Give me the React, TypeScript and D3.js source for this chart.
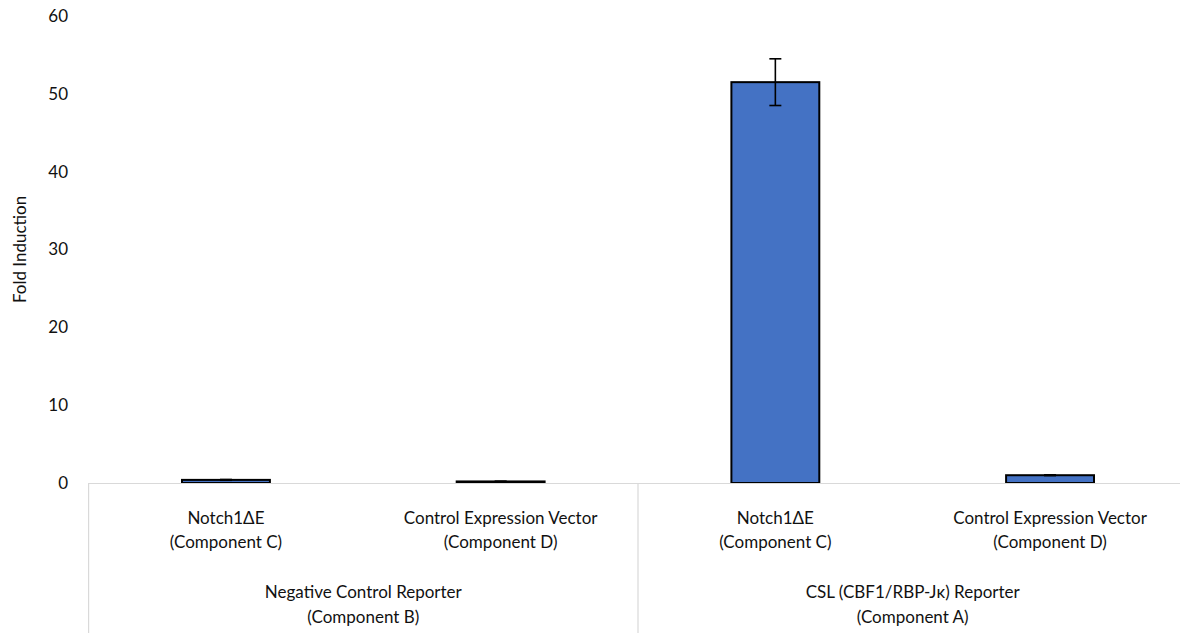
import React from "react";
import * as d3 from "d3";

const categoryLines: string[][] = [
  ["Notch1ΔE", "(Component C)"],
  ["Control Expression Vector", "(Component D)"],
  ["Notch1ΔE", "(Component C)"],
  ["Control Expression Vector", "(Component D)"],
];
const groupLines: string[][] = [
  ["Negative Control Reporter", "(Component B)"],
  ["CSL (CBF1/RBP-Jκ) Reporter", "(Component A)"],
];
const groupSizes = [2, 2];
const values = [0.4, 0.2, 51.5, 1.0];
const errors = [0.05, 0.03, 3.0, 0.05];
const yTicks = [0, 10, 20, 30, 40, 50, 60];
const yTitle = "Fold Induction";

const W = 1180;
const H = 633;
const FONT = "Lato, 'Open Sans', sans-serif";
const TEXT = "#111";
const FS = 17;

export default function App() {
  const left = 88.6;
  const right = 1187.4;
  const top = 16;
  const bottom = 483;
  const idx = values.map((_, i) => i);
  const x = d3.scaleBand<number>().domain(idx).range([left, right]).padding(0);
  const y = d3.scaleLinear().domain([0, 60]).range([bottom, top]);
  const bw = x.bandwidth() * 0.32;

  const bounds: number[] = [left];
  let acc = 0;
  groupSizes.forEach((s) => {
    acc += s;
    bounds.push(left + acc * x.bandwidth());
  });

  return (
    <div style={{ position: "absolute", left: 0, top: 0 }}>
      <svg width={W} height={H} style={{ display: "block" }} fontFamily={FONT}>
        <rect x={0} y={0} width={W} height={H} fill="#fff" />
        {yTicks.map((t) => (
          <text key={t} x={68} y={y(t)} dy="0.35em" textAnchor="end" fontSize={FS} fill={TEXT}>
            {t}
          </text>
        ))}
        <text
          transform={`translate(${20},${(top + bottom) / 2}) rotate(-90)`}
          textAnchor="middle"
          dy="0.35em"
          fontSize={FS}
          fill={TEXT}
        >
          {yTitle}
        </text>
        {values.map((v, i) => {
          const cx = (x(i) as number) + x.bandwidth() / 2;
          return (
            <rect
              key={"b" + i}
              x={cx - bw / 2}
              y={y(v)}
              width={bw}
              height={y(0) - y(v)}
              fill="#4472C4"
              stroke="#000"
              strokeWidth={2}
            />
          );
        })}
        <line x1={left} x2={right} y1={bottom + 0.5} y2={bottom + 0.5} stroke="#d9d9d9" strokeWidth={1.2} />
        {bounds.map((b, i) => (
          <line key={"d" + i} x1={b} x2={b} y1={bottom} y2={H} stroke="#d9d9d9" strokeWidth={1.2} />
        ))}
        {values.map((v, i) => {
          const cx = (x(i) as number) + x.bandwidth() / 2;
          const e = errors[i];
          return (
            <g key={"e" + i} stroke="#000" strokeWidth={1.6}>
              <line x1={cx} x2={cx} y1={y(v + e)} y2={y(v - e)} />
              <line x1={cx - 6} x2={cx + 6} y1={y(v + e)} y2={y(v + e)} />
              <line x1={cx - 6} x2={cx + 6} y1={y(v - e)} y2={y(v - e)} />
            </g>
          );
        })}
        {categoryLines.map((lines, i) => {
          const cx = (x(i) as number) + x.bandwidth() / 2;
          return lines.map((l, j) => (
            <text key={"c" + i + j} x={cx} y={524 + j * 23.5} textAnchor="middle" fontSize={FS} fill={TEXT}>
              {l}
            </text>
          ));
        })}
        {groupLines.map((lines, g) => {
          const cx = (bounds[g] + bounds[g + 1]) / 2;
          return lines.map((l, j) => (
            <text key={"g" + g + j} x={cx} y={598 + j * 25} textAnchor="middle" fontSize={FS} fill={TEXT}>
              {l}
            </text>
          ));
        })}
      </svg>
    </div>
  );
}
